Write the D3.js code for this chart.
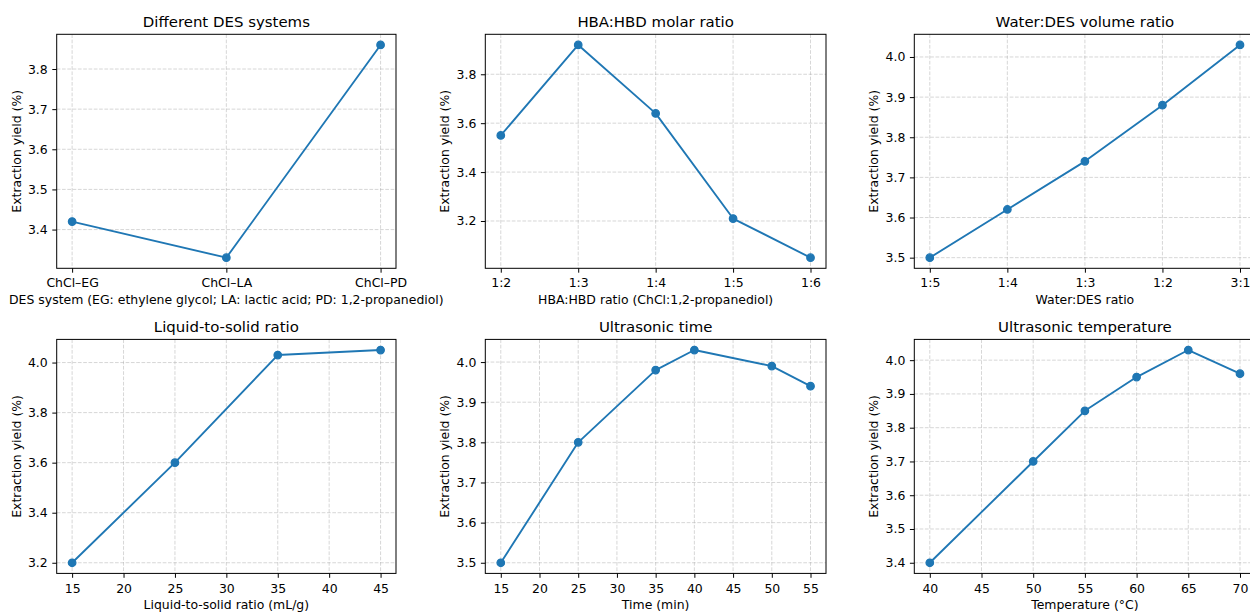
<!DOCTYPE html>
<html>
<head>
<meta charset="utf-8">
<script src="https://cdn.jsdelivr.net/npm/d3@7"></script>
<style>
  html, body { margin: 0; padding: 0; background: #fff; }
  svg { display: block; font-family: "DejaVu Sans", sans-serif; }
</style>
</head>
<body>
<svg id="chart" width="1250" height="612"></svg>
<script>
// ---------------- data ----------------
const desCats   = ["ChCl–EG", "ChCl–LA", "ChCl–PD"];
const desYield  = [3.42, 3.33, 3.86];

const molarCats  = ["1:2", "1:3", "1:4", "1:5", "1:6"];
const molarYield = [3.55, 3.92, 3.64, 3.21, 3.05];

const waterCats  = ["1:5", "1:4", "1:3", "1:2", "3:1"];
const waterYield = [3.50, 3.62, 3.74, 3.88, 4.03];

const lsRatio = [15, 25, 35, 45];
const lsYield = [3.20, 3.60, 4.03, 4.05];

const timeMin   = [15, 25, 35, 40, 50, 55];
const timeYield = [3.50, 3.80, 3.98, 4.03, 3.99, 3.94];

const tempC     = [40, 50, 55, 60, 65, 70];
const tempYield = [3.40, 3.70, 3.85, 3.95, 4.03, 3.96];

// tick labels
const yTicksDes   = [3.4, 3.5, 3.6, 3.7, 3.8];
const yTicksMolar = [3.2, 3.4, 3.6, 3.8];
const yTicksWater = [3.5, 3.6, 3.7, 3.8, 3.9, 4.0];
const yTicksLS    = [3.2, 3.4, 3.6, 3.8, 4.0];
const yTicksTime  = [3.5, 3.6, 3.7, 3.8, 3.9, 4.0];
const yTicksTemp  = [3.4, 3.5, 3.6, 3.7, 3.8, 3.9, 4.0];
const xTicksLS    = [15, 20, 25, 30, 35, 40, 45];
const xTicksTime  = [15, 20, 25, 30, 35, 40, 45, 50, 55];
const xTicksTemp  = [40, 45, 50, 55, 60, 65, 70];

const titles = ["Different DES systems", "HBA:HBD molar ratio", "Water:DES volume ratio",
                "Liquid-to-solid ratio", "Ultrasonic time", "Ultrasonic temperature"];
const xLabels = ["DES system (EG: ethylene glycol; LA: lactic acid; PD: 1,2-propanediol)",
                 "HBA:HBD ratio (ChCl:1,2-propanediol)", "Water:DES ratio",
                 "Liquid-to-solid ratio (mL/g)", "Time (min)", "Temperature (°C)"];
const yLabel = "Extraction yield (%)";

// ---------------- layout ----------------
const colLeft  = [56.7, 485.3, 914.3];
const colWidth = [339.3, 340.7, 341.2];
const rowTop   = [34.3, 339.4];
const rowH     = 234;
const COLOR = "#1f77b4";
const FS = 12.45, FT = 14.95;

const svg = d3.select("#chart");

const panels = [
  {cats: desCats,   x: null,    y: desYield,   yt: yTicksDes},
  {cats: molarCats, x: null,    y: molarYield, yt: yTicksMolar},
  {cats: waterCats, x: null,    y: waterYield, yt: yTicksWater},
  {cats: null,      x: lsRatio, y: lsYield,    yt: yTicksLS,   xt: xTicksLS},
  {cats: null,      x: timeMin, y: timeYield,  yt: yTicksTime, xt: xTicksTime},
  {cats: null,      x: tempC,   y: tempYield,  yt: yTicksTemp, xt: xTicksTemp}
];

function padDomain(lo, hi) { const m = (hi - lo) * 0.05; return [lo - m, hi + m]; }

panels.forEach((p, i) => {
  const col = i % 3, row = Math.floor(i / 3);
  const L = colLeft[col], T = rowTop[row], Wd = colWidth[col], Ht = rowH;
  const g = svg.append("g").attr("transform", `translate(${L},${T})`);

  let xs, xVals, xTickVals, xTickFmt;
  if (p.cats) {
    const n = p.cats.length;
    xVals = p.cats.map((_, k) => k);
    xs = d3.scaleLinear().domain(padDomain(0, n - 1)).range([0, Wd]);
    xTickVals = xVals;
    xTickFmt = k => p.cats[k];
  } else {
    xVals = p.x;
    xs = d3.scaleLinear().domain(padDomain(d3.min(p.x), d3.max(p.x))).range([0, Wd]);
    xTickVals = p.xt;
    xTickFmt = d3.format("d");
  }
  const ys = d3.scaleLinear().domain(padDomain(d3.min(p.y), d3.max(p.y))).range([Ht, 0]);

  // grid
  const grid = g.append("g").attr("stroke", "#b0b0b0").attr("stroke-opacity", 0.5)
    .attr("stroke-width", 1).attr("stroke-dasharray", "3.7,1.6");
  grid.selectAll("line.gx").data(xTickVals).join("line")
    .attr("x1", d => xs(d)).attr("x2", d => xs(d)).attr("y1", 0).attr("y2", Ht);
  grid.selectAll("line.gy").data(p.yt).join("line")
    .attr("y1", d => ys(d)).attr("y2", d => ys(d)).attr("x1", 0).attr("x2", Wd);

  // axes
  const ax = g.append("g").attr("transform", `translate(0,${Ht})`)
    .call(d3.axisBottom(xs).tickValues(xTickVals).tickFormat(xTickFmt)
      .tickSize(4.4).tickSizeOuter(0).tickPadding(5.9));
  const ay = g.append("g")
    .call(d3.axisLeft(ys).tickValues(p.yt).tickFormat(d3.format(".1f"))
      .tickSize(4.4).tickSizeOuter(0).tickPadding(4.6));
  [ax, ay].forEach(a => {
    a.select(".domain").remove();
    a.selectAll("line").attr("stroke", "#000").attr("stroke-width", 1);
    a.selectAll("text").attr("font-size", FS).attr("fill", "#000")
      .attr("font-family", "DejaVu Sans");
  });

  // line + markers
  const pts = xVals.map((xv, k) => [xs(xv), ys(p.y[k])]);
  g.append("path").datum(pts)
    .attr("d", d3.line())
    .attr("fill", "none").attr("stroke", COLOR).attr("stroke-width", 1.875)
    .attr("stroke-linejoin", "round").attr("stroke-linecap", "butt");
  g.selectAll("circle").data(pts).join("circle")
    .attr("cx", d => d[0]).attr("cy", d => d[1]).attr("r", 3.75)
    .attr("fill", COLOR).attr("stroke", COLOR).attr("stroke-width", 1.25);

  // spines
  g.append("rect").attr("x", 0).attr("y", 0).attr("width", Wd).attr("height", Ht)
    .attr("fill", "none").attr("stroke", "#000").attr("stroke-width", 1);

  // title
  g.append("text").attr("x", Wd / 2).attr("y", -7.4).attr("text-anchor", "middle")
    .attr("font-size", FT).attr("fill", "#000").text(titles[i]);
  // x label
  g.append("text").attr("x", Wd / 2).attr("y", Ht + 36).attr("text-anchor", "middle")
    .attr("font-size", FS).attr("fill", "#000").text(xLabels[i]);
  // y label
  g.append("text").attr("transform", `translate(${-40.5},${Ht / 2}) rotate(-90)`)
    .attr("text-anchor", "middle").attr("dy", "0.35em")
    .attr("font-size", FS).attr("fill", "#000").text(yLabel);
});
</script>
</body>
</html>
